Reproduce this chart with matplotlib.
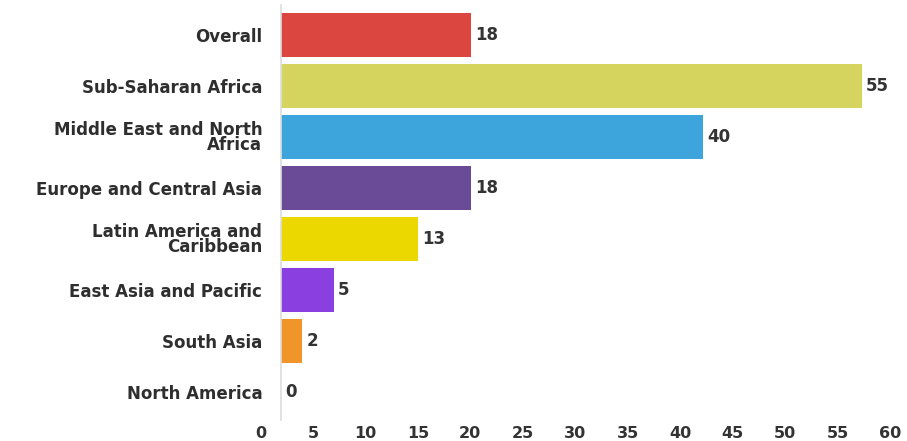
import matplotlib
matplotlib.use('Agg')
import matplotlib.pyplot as plt

# Regional values
regions = ['Overall', 'Sub-Saharan Africa', 'Middle East and North\nAfrica',
           'Europe and Central Asia', 'Latin America and\nCaribbean',
           'East Asia and Pacific', 'South Asia', 'North America']
values = [18, 55, 40, 18, 13, 5, 2, 0]
colors = ['#db4740', '#d4d45e', '#3ea5dc', '#6a4b98', '#ebd800',
          '#8a40e0', '#f0952a', '#999999']
xticks = [0, 5, 10, 15, 20, 25, 30, 35, 40, 45, 50, 55, 60]

plt.rcParams['font.family'] = ['DejaVu Sans']

fig = plt.figure(figsize=(9.07, 4.41), dpi=100)
# axes starts 2 units left of zero, the spine is moved to x=0
ax = fig.add_axes([260 / 907, 21 / 441, 646 / 907, 415 / 441])

for side in ['top', 'right', 'bottom']:
    ax.spines[side].set_visible(False)
ax.spines['left'].set_position(('data', 0))  # resets ticks, so do it first
ax.spines['left'].set_color('#dddddd')
ax.spines['left'].set_linewidth(1.2)

ypos = list(range(len(regions)))
ax.barh(ypos, values, height=0.87, color=colors, zorder=2)

# Value labels at the end of each bar
for y, v in zip(ypos, values):
    ax.text(v + 0.4, y, str(v), va='center', ha='left', fontsize=12,
            fontweight='bold', color='#333333')

ax.set_yticks(ypos)
ax.set_yticklabels(regions, fontsize=12, fontweight='bold', color='#2e2e2e',
                   linespacing=0.82)
ax.set_ylim(7.55, -0.588)
ax.set_xlim(-2, 59.2)

# tick labels are drawn slightly left of the value grid
ax.set_xticks([t * 0.994 - 1.95 for t in xticks])
ax.set_xticklabels([str(t) for t in xticks], fontsize=11.5, fontweight='bold',
                   color='#333333')
ax.tick_params(axis='both', length=0)
ax.tick_params(axis='y', pad=13.5)
ax.tick_params(axis='x', pad=4)

fig.savefig('out.png', dpi=100)
